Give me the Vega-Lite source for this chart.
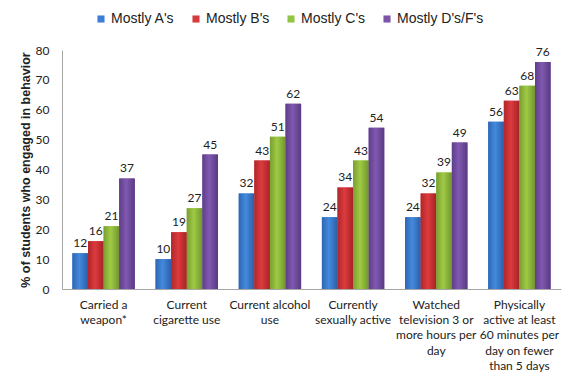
{
  "$schema": "https://vega.github.io/schema/vega-lite/v6.json",
  "autosize": "none",
  "width": 499,
  "height": 239,
  "padding": {"left": 62, "top": 50, "right": 19, "bottom": 100},
  "background": "white",
  "config": {"view": {"stroke": null}},
  "data": {"values": [
    {"behavior": "Carried a weapon*", "group": "Mostly A's", "pct": 12},
    {"behavior": "Carried a weapon*", "group": "Mostly B's", "pct": 16},
    {"behavior": "Carried a weapon*", "group": "Mostly C's", "pct": 21},
    {"behavior": "Carried a weapon*", "group": "Mostly D's/F's", "pct": 37},
    {"behavior": "Current cigarette use", "group": "Mostly A's", "pct": 10},
    {"behavior": "Current cigarette use", "group": "Mostly B's", "pct": 19},
    {"behavior": "Current cigarette use", "group": "Mostly C's", "pct": 27},
    {"behavior": "Current cigarette use", "group": "Mostly D's/F's", "pct": 45},
    {"behavior": "Current alcohol use", "group": "Mostly A's", "pct": 32},
    {"behavior": "Current alcohol use", "group": "Mostly B's", "pct": 43},
    {"behavior": "Current alcohol use", "group": "Mostly C's", "pct": 51},
    {"behavior": "Current alcohol use", "group": "Mostly D's/F's", "pct": 62},
    {"behavior": "Currently sexually active", "group": "Mostly A's", "pct": 24},
    {"behavior": "Currently sexually active", "group": "Mostly B's", "pct": 34},
    {"behavior": "Currently sexually active", "group": "Mostly C's", "pct": 43},
    {"behavior": "Currently sexually active", "group": "Mostly D's/F's", "pct": 54},
    {"behavior": "Watched television 3 or more hours per day", "group": "Mostly A's", "pct": 24},
    {"behavior": "Watched television 3 or more hours per day", "group": "Mostly B's", "pct": 32},
    {"behavior": "Watched television 3 or more hours per day", "group": "Mostly C's", "pct": 39},
    {"behavior": "Watched television 3 or more hours per day", "group": "Mostly D's/F's", "pct": 49},
    {"behavior": "Physically active at least 60 minutes per day on fewer than 5 days", "group": "Mostly A's", "pct": 56},
    {"behavior": "Physically active at least 60 minutes per day on fewer than 5 days", "group": "Mostly B's", "pct": 63},
    {"behavior": "Physically active at least 60 minutes per day on fewer than 5 days", "group": "Mostly C's", "pct": 68},
    {"behavior": "Physically active at least 60 minutes per day on fewer than 5 days", "group": "Mostly D's/F's", "pct": 76}
  ]},
  "encoding": {
    "x": {
      "field": "behavior", "type": "nominal", "sort": null,
      "scale": {"paddingInner": 0.25, "paddingOuter": 0.125},
      "axis": {
        "title": null, "labelAngle": 0, "ticks": false,
        "domainColor": "#a6a6a6", "labelFont": "Lato", "labelFontSize": 12, "labelColor": "#222222",
        "labelPadding": 10, "labelLineHeight": 15.4, "labelBaseline": "top",
        "labelExpr": "{'Carried a weapon*': ['Carried a', 'weapon*'], 'Current cigarette use': ['Current', 'cigarette use'], 'Current alcohol use': ['Current alcohol', 'use'], 'Currently sexually active': ['Currently', 'sexually active'], 'Watched television 3 or more hours per day': ['Watched', 'television 3 or', 'more hours per', 'day'], 'Physically active at least 60 minutes per day on fewer than 5 days': ['Physically', 'active at least', '60 minutes per', 'day on fewer', 'than 5 days']}[datum.label]"
      }
    },
    "xOffset": {"field": "group", "type": "nominal"},
    "y": {
      "field": "pct", "type": "quantitative",
      "scale": {"domain": [0, 80]},
      "axis": {
        "title": "% of students  who engaged in behavior", "titleFont": "Liberation Sans", "titleFontSize": 12.5, "titleFontWeight": "bold", "titleColor": "#222222", "titlePadding": 3,
        "values": [0, 10, 20, 30, 40, 50, 60, 70, 80], "grid": false, "ticks": false,
        "domainColor": "#a6a6a6", "labelFont": "Lato", "labelFontSize": 12, "labelColor": "#222222", "labelPadding": 13
      }
    }
  },
  "layer": [
    {
      "mark": {"type": "bar"},
      "encoding": {
        "color": {
          "field": "group", "type": "nominal",
          "scale": {"range": ["#3b7dd8", "#d63a3c", "#93c545", "#7c55a8"]},
          "legend": {
            "title": null, "orient": "none", "direction": "horizontal", "legendX": 32, "legendY": -38,
            "symbolType": "square", "symbolSize": 50, "labelFont": "Liberation Sans", "labelFontSize": 14, "labelColor": "#222222",
            "labelOffset": 3, "columnPadding": 14
          }
        }
      }
    },
    {
      "transform": [{"filter": {"field": "group", "equal": "Mostly A's"}}],
      "mark": {"type": "bar", "fill": {"gradient": "linear", "x1": 0, "x2": 1, "y1": 0, "y2": 0, "stops": [{"offset": 0, "color": "#2f66b2"}, {"offset": 0.45, "color": "#438ade"}, {"offset": 1, "color": "#2c5ea8"}]}}
    },
    {
      "transform": [{"filter": {"field": "group", "equal": "Mostly B's"}}],
      "mark": {"type": "bar", "fill": {"gradient": "linear", "x1": 0, "x2": 1, "y1": 0, "y2": 0, "stops": [{"offset": 0, "color": "#b02629"}, {"offset": 0.45, "color": "#dc3b3e"}, {"offset": 1, "color": "#a82225"}]}}
    },
    {
      "transform": [{"filter": {"field": "group", "equal": "Mostly C's"}}],
      "mark": {"type": "bar", "fill": {"gradient": "linear", "x1": 0, "x2": 1, "y1": 0, "y2": 0, "stops": [{"offset": 0, "color": "#7a9e31"}, {"offset": 0.45, "color": "#9fca45"}, {"offset": 1, "color": "#72962d"}]}}
    },
    {
      "transform": [{"filter": {"field": "group", "equal": "Mostly D's/F's"}}],
      "mark": {"type": "bar", "fill": {"gradient": "linear", "x1": 0, "x2": 1, "y1": 0, "y2": 0, "stops": [{"offset": 0, "color": "#5f3e8a"}, {"offset": 0.45, "color": "#8059b0"}, {"offset": 1, "color": "#583982"}]}}
    },
    {
      "mark": {"type": "text", "baseline": "bottom", "dy": -3, "font": "Lato", "fontSize": 12, "color": "#222222"},
      "encoding": {"text": {"field": "pct", "type": "quantitative"}}
    }
  ]
}
